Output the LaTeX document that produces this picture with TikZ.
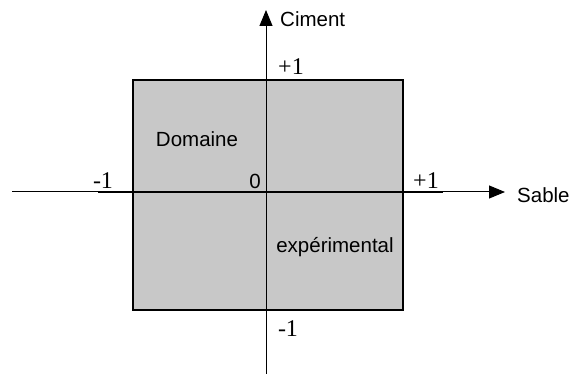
\documentclass[tikz,border=0pt]{standalone}
\usepackage{fontspec}
\setmainfont{Liberation Serif}
\setsansfont{Liberation Sans}
\usetikzlibrary{arrows.meta}
\definecolor{boxgray}{RGB}{200,200,200}

\begin{document}
\begin{tikzpicture}[x=1pt, y=-1pt,
    lbl/.style={font=\sffamily\fontsize{20.5}{24}\selectfont, inner sep=0pt},
    num/.style={font=\rmfamily\fontsize{24}{28}\selectfont, inner sep=0pt, anchor=base},
    axis/.style={line width=1pt, -{Triangle[length=16pt, width=13pt]}}]
    \useasboundingbox (0,0) rectangle (571,374);

    % experimental domain
    \draw[fill=boxgray, line width=1.5pt] (133,80) rectangle (403,310);

    % axes
    \coordinate (xa) at (12,192);
    \coordinate (xb) at (505,192);
    \coordinate (ya) at (266,374);
    \coordinate (yb) at (266,10);
    \coordinate (xl) at (98,192);
    \coordinate (xr) at (443,192);
    \draw[axis] (xa) -- (xb);
    \draw[axis] (ya) -- (yb);
    \draw[line width=2pt] (xl) -- (xr);

    \node[lbl, anchor=west] (ciment) at (280,19) {Ciment};
    \node[lbl, anchor=west] (sable) at (517,195) {Sable};

    \node[num] (xmin) at (103,189) {-1};
    \node[num] (xmax) at (426,189) {+1};
    \node[num] (ymax) at (291,75) {+1};
    \node[num] (ymin) at (288,337) {-1};
    \node[lbl, anchor=base] (zero) at (255,189) {0};

    \node[lbl, anchor=base] (dom) at (197,147) {Domaine};
    \node[lbl, anchor=base] (exp) at (335,253) {expérimental};
\end{tikzpicture}
\end{document}
